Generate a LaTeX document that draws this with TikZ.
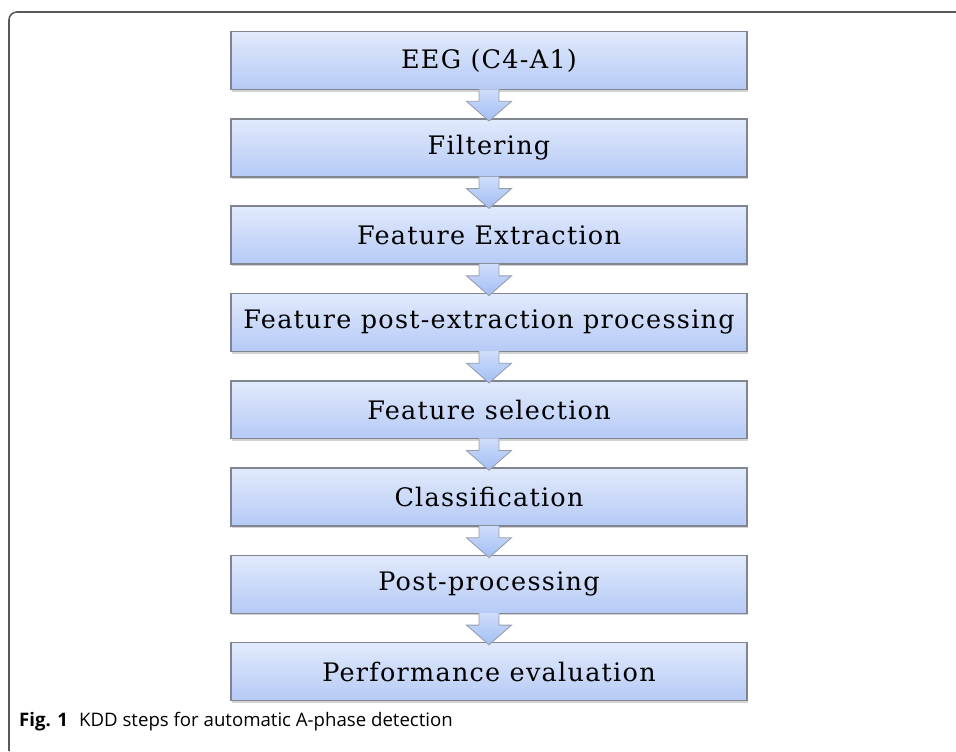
\documentclass[tikz,border=0pt]{standalone}
\usepackage{fontspec}
\setmainfont{DejaVu Serif}[LetterSpace=5]
\setsansfont{Open Sans}
\usetikzlibrary{shadows,calc}

\definecolor{boxtop}{RGB}{226,234,252}
\definecolor{boxbot}{RGB}{181,202,246}
\definecolor{boxline}{RGB}{128,133,143}
\definecolor{arrtop}{RGB}{206,221,251}
\definecolor{arrbot}{RGB}{163,190,244}
\definecolor{arrline}{RGB}{150,158,172}

\tikzset{
  kddbox/.style={draw=boxline, line width=0.9pt, top color=boxtop, bottom color=boxbot,
    minimum width=10.32cm, minimum height=1.16cm, inner sep=0pt,
    font=\fontsize{14.5}{17}\selectfont,
    drop shadow={shadow xshift=0.6pt, shadow yshift=-1.2pt, opacity=0.35}},
  kddarrow/.style={draw=arrline, line width=0.5pt, top color=arrtop, bottom color=arrbot}
}

\begin{document}
\begin{tikzpicture}[x=0.02cm,y=-0.02cm]
  \useasboundingbox (0,0) rectangle (956,751);

  % Frame
  \draw[black!65, line width=0.9pt, rounded corners=4.5pt] (9,751) |- (956,12);

  % Steps
  \foreach \i/\txt in {
    1/EEG (C4-A1),
    2/Filtering,
    3/Feature Extraction,
    4/Feature post-extraction processing,
    5/Feature selection,
    6/Classification,
    7/Post-processing,
    8/Performance evaluation
  }{
    \node[kddbox] (s\i) at (489,{60.5+87.3*(\i-1)}) {\txt};
  }

  % Block arrows between steps
  \foreach \i/\j in {1/2,2/3,3/4,4/5,5/6,6/7,7/8}{
    \draw[kddarrow] ($(s\i.south)+(-10,-1)$) -- ($(s\i.south)+(-10,11)$)
      -- ($(s\i.south)+(-22.5,11)$) -- ($(s\j.north)+(0,3)$)
      -- ($(s\i.south)+(22.5,11)$) -- ($(s\i.south)+(10,11)$)
      -- ($(s\i.south)+(10,-1)$);
  }

  % Caption
  \node[anchor=base west, font=\sffamily\fontsize{10.6}{12}\selectfont] (cap) at (13,726)
    {\textbf{Fig. 1}\hspace{0.6em}KDD steps for automatic A-phase detection};
\end{tikzpicture}
\end{document}
